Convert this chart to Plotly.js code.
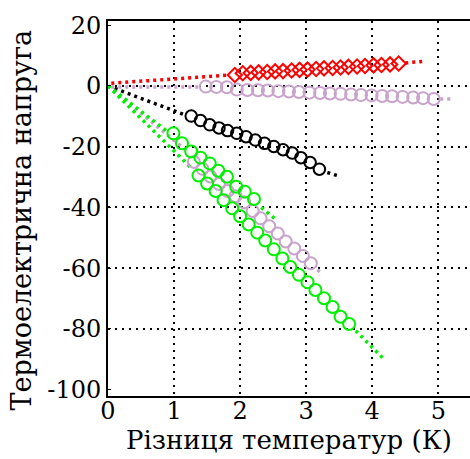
<!DOCTYPE html>
<html>
<head>
<meta charset="utf-8">
<script src="https://cdn.plot.ly/plotly-3.0.1.min.js"></script>
<style>html,body{margin:0;padding:0;background:#fff;}#chart{width:470px;height:459px;}</style>
</head>
<body>
<div id="chart"></div>
<script>
// Series A: red diamonds
const redX = [1.92,2.04,2.16,2.28,2.41,2.53,2.65,2.78,2.90,3.02,3.15,3.27,3.40,3.52,3.64,3.77,3.89,4.02,4.14,4.27,4.40];
const redY = [3.6,4.2,4.3,4.5,4.6,4.8,4.9,5.1,5.3,5.4,5.6,5.8,5.9,6.1,6.3,6.4,6.6,6.8,6.9,7.1,7.4];
// fit line: start, (gap over markers), end
const redFitX = [0.05, 1.85, null, 4.50, 4.81];
const redFitY = [0.9, 3.6, null, 7.6, 8.2];

// Series B: lavender circles near zero
const lavAX = [1.48,1.64,1.80,1.95,2.11,2.27,2.42,2.58,2.74,2.89,3.05,3.21,3.36,3.52,3.68,3.83,3.99,4.15,4.30,4.46,4.62,4.77,4.93];
const lavAY = [-0.2,-0.3,-0.4,-1.2,-1.3,-1.4,-1.5,-1.7,-1.8,-2.0,-2.2,-2.3,-2.5,-2.6,-2.8,-3.0,-3.1,-3.3,-3.4,-3.6,-3.8,-4.0,-4.3];
const lavAFitX = [0.05, 1.38, null, 5.03, 5.2];
const lavAFitY = [-0.3, -0.3, null, -4.3, -4.3];

// Series C: black circles
const blackX = [1.26,1.40,1.54,1.68,1.81,1.95,2.09,2.23,2.37,2.51,2.65,2.79,2.92,3.06,3.20];
const blackY = [-9.9,-11.4,-12.8,-13.8,-14.7,-15.6,-16.7,-17.8,-18.9,-19.9,-21.0,-22.1,-23.6,-25.2,-27.4];
const blackFitX = [0.1, 1.15, null, 3.32, 3.5];
const blackFitY = [-0.8, -9.4, null, -28.5, -29.7];

// Series D: green circles (upper)
const greenAX = [0.99,1.12,1.26,1.40,1.54,1.67,1.80,1.94,2.07,2.21];
const greenAY = [-15.6,-18.9,-21.6,-23.6,-25.5,-27.9,-29.9,-33.2,-34.8,-37.2];
const greenAFitX = [0.0, 0.9, null, 2.32, 2.52];
const greenAFitY = [0.0, -15.0, null, -40.0, -43.6];

// Series E: lavender circles (steep)
const lavBX = [1.30,1.43,1.55,1.68,1.81,1.93,2.06,2.19,2.31,2.44,2.57,2.69,2.82,2.95,3.07];
const lavBY = [-25.0,-27.3,-29.8,-32.3,-34.6,-36.3,-38.3,-41.2,-43.6,-46.2,-48.6,-51.2,-53.5,-56.0,-58.4];
const lavBFitX = [0.0, 1.2, null, 3.17, 3.24];
const lavBFitY = [0.0, -21.5, null, -60.5, -61.9];

// Series F: green circles (lower)
const greenBX = [1.37,1.50,1.63,1.75,1.88,2.00,2.13,2.26,2.38,2.51,2.64,2.76,2.89,3.02,3.14,3.27,3.40,3.52,3.65];
const greenBY = [-29.5,-32.1,-34.6,-37.6,-40.3,-42.9,-45.6,-48.3,-50.9,-53.8,-56.8,-59.6,-62.2,-64.6,-67.2,-69.9,-72.8,-76.0,-78.4];
const greenBFitX = [0.0, 1.27, null, 3.75, 4.16];
const greenBFitY = [0.0, -27.2, null, -80.6, -89.6];

const xTicks = [0,1,2,3,4,5];
const yTicks = [20,0,-20,-40,-60,-80,-100];
const yGrid = [0,-20,-40,-60,-80];
const xTitle = 'Різниця температур (К)';
const yTitle = 'Термоелектрична напруга';

const RED = '#ff0000', LAV = '#c9a3cc', BLK = '#000000', GRN = '#00f000';
const dotDash = '3px,4px';

function fit(x, y, c) {
  return {x: x, y: y, mode: 'lines', connectgaps: false, line: {color: c, width: 3.5, dash: dotDash}, hoverinfo: 'skip'};
}
function pts(x, y, c, sym, size) {
  return {x: x, y: y, mode: 'markers', marker: {symbol: sym, size: size, color: c, line: {color: c, width: 2}}};
}

const traces = [
  {x: [], y: [], yaxis: 'y2', mode: 'markers', hoverinfo: 'skip'},
  fit(redFitX, redFitY, RED),
  fit(lavAFitX, lavAFitY, LAV),
  fit(blackFitX, blackFitY, BLK),
  fit(lavBFitX, lavBFitY, LAV),
  fit(greenAFitX, greenAFitY, GRN),
  fit(greenBFitX, greenBFitY, GRN),
  pts(redX, redY, RED, 'diamond-open', 11),
  pts(lavAX, lavAY, LAV, 'circle-open', 12),
  pts(blackX, blackY, BLK, 'circle-open', 11.5),
  pts(lavBX, lavBY, LAV, 'circle-open', 12),
  pts(greenAX, greenAY, GRN, 'circle-open', 12),
  pts(greenBX, greenBY, GRN, 'circle-open', 12)
];

const FAM = 'DejaVu Serif';
const tickFont = {family: FAM, size: 24, color: '#000'};
const xTitleFont = {family: FAM, size: 26, color: '#000'};
const yTitleFont = {family: FAM, size: 27, color: '#000'};
const yRange = [-102.1, 21.4];

const layout = {
  width: 470, height: 459,
  margin: {l: 108, r: 0, t: 21, b: 63, pad: 0},
  paper_bgcolor: '#fff', plot_bgcolor: '#fff',
  showlegend: false,
  font: {family: FAM, size: 24, color: '#000'},
  xaxis: {
    range: [0, 5.48], tickvals: xTicks, ticktext: xTicks.map(String),
    showline: true, linecolor: '#000', linewidth: 2, mirror: true,
    showgrid: true, gridcolor: '#000', gridwidth: 2, griddash: '2px,5px',
    zeroline: false, ticks: '', tickfont: tickFont, ticklabelstandoff: -8,
    title: {text: xTitle, font: xTitleFont, standoff: 0}
  },
  yaxis: {
    range: yRange, tickvals: yTicks, ticktext: yTicks.map(String),
    showline: true, linecolor: '#000', linewidth: 2, mirror: false,
    showgrid: false, zeroline: false,
    ticks: 'inside', ticklen: 3, tickcolor: '#000', tickfont: tickFont
  },
  yaxis2: {
    overlaying: 'y', range: yRange, tickvals: yGrid,
    showticklabels: false, showline: false, zeroline: false, ticks: '',
    showgrid: true, gridcolor: '#000', gridwidth: 2, griddash: '2px,5px'
  },
  annotations: [{
    text: yTitle, textangle: -90, font: yTitleFont, showarrow: false,
    xref: 'paper', yref: 'paper', x: -0.238, y: 0.47,
    xanchor: 'center', yanchor: 'middle'
  }]
};

Plotly.newPlot('chart', traces, layout, {displayModeBar: false, staticPlot: true});
</script>
</body>
</html>
